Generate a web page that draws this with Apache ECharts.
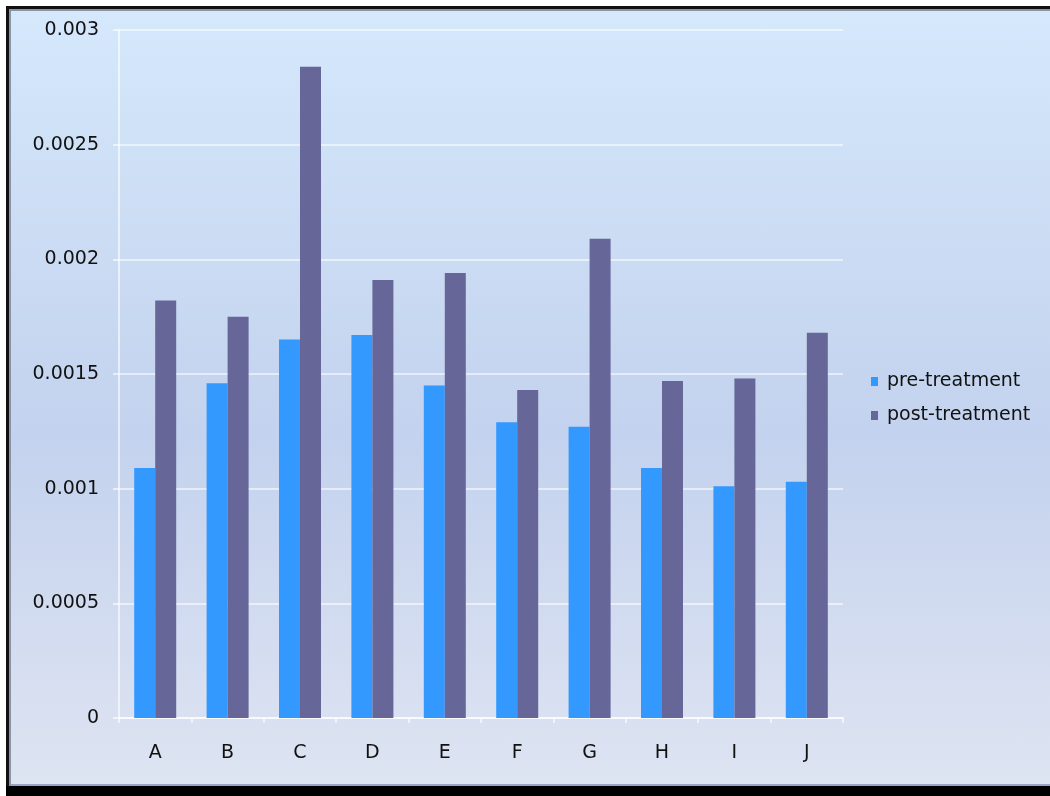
<!DOCTYPE html>
<html>
<head>
<meta charset="utf-8">
<script src="https://cdn.jsdelivr.net/npm/echarts@6/dist/echarts.min.js"></script>
<style>
html,body{margin:0;padding:0;background:#fff;width:1050px;height:796px;overflow:hidden;}
#frame{position:absolute;left:6px;top:6px;width:1044px;height:780px;background:#111;}
#bottom{position:absolute;left:6px;top:786px;width:1044px;height:10px;background:#000;}
#chart{position:absolute;left:9px;top:9px;width:1041px;height:777px;
 background:linear-gradient(to bottom,#D5E8FC 0%,#C9DAF2 35%,#C3D2EE 55%,#D3DCF0 80%,#DDE4F2 100%);
 box-shadow:inset 2px 2px 0 #8a93a8, inset 0 -2px 0 #9aa4c8;}
</style>
</head>
<body>
<div id="frame"></div>
<div id="bottom"></div>
<div id="chart"></div>
<script>
const categories = ['A','B','C','D','E','F','G','H','I','J'];
const preTreatment = [0.00109, 0.00146, 0.00165, 0.00167, 0.00145, 0.00129, 0.00127, 0.00109, 0.00101, 0.00103];
const postTreatment = [0.00182, 0.00175, 0.00284, 0.00191, 0.00194, 0.00143, 0.00209, 0.00147, 0.00148, 0.00168];
const yTicks = [0, 0.0005, 0.001, 0.0015, 0.002, 0.0025, 0.003];

const chart = echarts.init(document.getElementById('chart'), null, {renderer:'canvas'});
const font = 'DejaVu Sans, Liberation Sans, Arial, sans-serif';
chart.setOption({
  backgroundColor: 'transparent',
  animation: false,
  textStyle: {fontFamily: font},
  grid: {left: 110, right: 207, top: 21, bottom: 68, containLabel: false},
  legend: {
    orient: 'vertical',
    left: 857,
    top: 358,
    itemWidth: 7,
    itemHeight: 9,
    itemGap: 15,
    icon: 'rect',
    textStyle: {fontSize: 19, color: '#111', fontFamily: font, padding: [0,0,0,4]},
    data: ['pre-treatment','post-treatment']
  },
  xAxis: {
    type: 'category',
    data: categories,
    axisLine: {lineStyle: {color: 'rgba(255,255,255,0.6)', width: 2}},
    axisTick: {show: true, length: 5, lineStyle: {color: 'rgba(255,255,255,0.6)', width: 2}},
    axisLabel: {fontSize: 19, color: '#111', margin: 26, fontFamily: font},
    splitLine: {show: false}
  },
  yAxis: {
    type: 'value',
    min: yTicks[0],
    max: yTicks[yTicks.length-1],
    interval: 0.0005,
    axisLine: {show: true, lineStyle: {color: 'rgba(255,255,255,0.6)', width: 2}},
    axisTick: {show: true, length: 6, lineStyle: {color: 'rgba(255,255,255,0.6)', width: 2}},
    axisLabel: {fontSize: 19, color: '#111', margin: 20, fontFamily: font,
      formatter: v => { const t = yTicks.find(x => Math.abs(x - v) < 1e-9); return String(t !== undefined ? t : v); }},
    splitLine: {show: true, lineStyle: {color: 'rgba(255,255,255,0.55)', width: 2}}
  },
  series: [
    {name: 'pre-treatment', type: 'bar', data: preTreatment, barWidth: 21, barGap: '0%',
     itemStyle: {color: '#3399FF'}},
    {name: 'post-treatment', type: 'bar', data: postTreatment, barWidth: 21, barGap: '0%',
     itemStyle: {color: '#666699'}}
  ]
});
</script>
</body>
</html>
